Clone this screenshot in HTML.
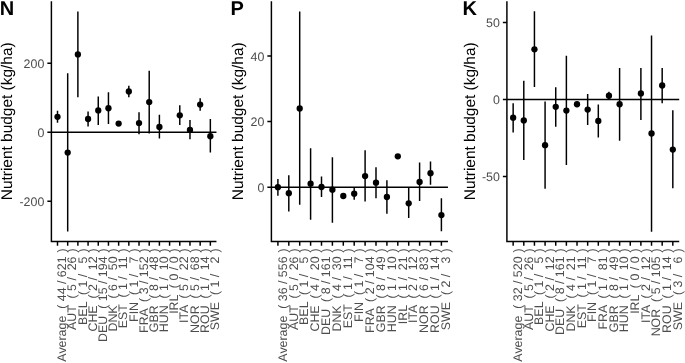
<!DOCTYPE html>
<html><head><meta charset="utf-8"><title>Nutrient budget</title>
<style>
html,body{margin:0;padding:0;background:#fff;}
body{width:685px;height:363px;overflow:hidden;}
svg{display:block;will-change:transform;}
text{font-family:"Liberation Sans", sans-serif;text-rendering:geometricPrecision;}
.t{font-size:12.4px;fill:#4d4d4d;white-space:pre;}
.ti{font-size:15.45px;fill:#000;}
.tag{font-size:20.0px;font-weight:bold;fill:#000;}
.ax{stroke:#000;stroke-width:1.47;fill:none;}
.tk{stroke:#000;stroke-width:1.47;fill:none;}
.r{stroke:#000;stroke-width:1.47;fill:none;}
.h{stroke:#000;stroke-width:1.47;fill:none;}
</style></head><body>
<svg width="685" height="363" viewBox="0 0 685 363">
<rect width="685" height="363" fill="#fff"/>
<g>
<text class="tag" x="-0.2" y="15.0">N</text>
<text class="ti" transform="translate(11.9 121.3) rotate(-90)" text-anchor="middle">Nutrient budget (kg/ha)</text>
<path class="h" d="M51.4 132.23H216.46"/>
<path class="r" d="M57.50 110.86V122.8M67.69 73.33V231.55M77.88 11.43V97.21M88.07 111.56V126.61M98.26 96.51V124.9M108.45 92.2V124.1M128.83 85.67V97.21M139.02 112.26V134.23M149.21 70.82V133.43M159.40 114.87V138.45M179.78 105.24V124.9M189.97 119.89V139.25M200.16 98.21V110.86M210.35 119.08V152.59"/>
<circle cx="57.50" cy="116.78" r="3.15"/>
<circle cx="67.69" cy="152.59" r="3.15"/>
<circle cx="77.88" cy="54.47" r="3.15"/>
<circle cx="88.07" cy="118.98" r="3.15"/>
<circle cx="98.26" cy="110.46" r="3.15"/>
<circle cx="108.45" cy="108.25" r="3.15"/>
<circle cx="118.64" cy="123.6" r="3.15"/>
<circle cx="128.83" cy="91.49" r="3.15"/>
<circle cx="139.02" cy="123.1" r="3.15"/>
<circle cx="149.21" cy="102.03" r="3.15"/>
<circle cx="159.40" cy="126.91" r="3.15"/>
<circle cx="179.78" cy="115.37" r="3.15"/>
<circle cx="189.97" cy="129.92" r="3.15"/>
<circle cx="200.16" cy="104.54" r="3.15"/>
<circle cx="210.35" cy="136.24" r="3.15"/>
<path class="ax" d="M51.4 1.2V241.6H216.46"/>
<path class="tk" d="M47.37 63.3H51.4M47.37 132.23H51.4M47.37 201.15H51.4M57.50 241.6V245.64M67.69 241.6V245.64M77.88 241.6V245.64M88.07 241.6V245.64M98.26 241.6V245.64M108.45 241.6V245.64M118.64 241.6V245.64M128.83 241.6V245.64M139.02 241.6V245.64M149.21 241.6V245.64M159.40 241.6V245.64M169.59 241.6V245.64M179.78 241.6V245.64M189.97 241.6V245.64M200.16 241.6V245.64M210.35 241.6V245.64"/>
<text class="t" x="44.30" y="67.90" text-anchor="end">200</text>
<text class="t" x="44.30" y="136.83" text-anchor="end">0</text>
<text class="t" x="44.30" y="205.75" text-anchor="end">-200</text>
<text class="t" xml:space="preserve" transform="translate(66.20 248.3) rotate(-90)" text-anchor="end">Average  ( 44 / 621<tspan dx="0.6"> )</tspan></text>
<text class="t" xml:space="preserve" transform="translate(76.39 248.3) rotate(-90)" text-anchor="end">AUT  ( 5 /  26<tspan dx="0.6"> )</tspan></text>
<text class="t" xml:space="preserve" transform="translate(86.58 248.3) rotate(-90)" text-anchor="end">BEL  ( 1 /   5<tspan dx="0.6"> )</tspan></text>
<text class="t" xml:space="preserve" transform="translate(96.77 248.3) rotate(-90)" text-anchor="end">CHE  ( 2 /  12<tspan dx="0.6"> )</tspan></text>
<text class="t" xml:space="preserve" transform="translate(106.96 248.3) rotate(-90)" text-anchor="end">DEU  ( 15 / 194<tspan dx="0.6"> )</tspan></text>
<text class="t" xml:space="preserve" transform="translate(117.15 248.3) rotate(-90)" text-anchor="end">DNK  ( 6 /  50<tspan dx="0.6"> )</tspan></text>
<text class="t" xml:space="preserve" transform="translate(127.34 248.3) rotate(-90)" text-anchor="end">EST  ( 1 /  11<tspan dx="0.6"> )</tspan></text>
<text class="t" xml:space="preserve" transform="translate(137.53 248.3) rotate(-90)" text-anchor="end">FIN  ( 1 /   7<tspan dx="0.6"> )</tspan></text>
<text class="t" xml:space="preserve" transform="translate(147.72 248.3) rotate(-90)" text-anchor="end">FRA  ( 3 / 152<tspan dx="0.6"> )</tspan></text>
<text class="t" xml:space="preserve" transform="translate(157.91 248.3) rotate(-90)" text-anchor="end">GBR  ( 8 /  48<tspan dx="0.6"> )</tspan></text>
<text class="t" xml:space="preserve" transform="translate(168.10 248.3) rotate(-90)" text-anchor="end">HUN  ( 1 /  10<tspan dx="0.6"> )</tspan></text>
<text class="t" xml:space="preserve" transform="translate(178.29 248.3) rotate(-90)" text-anchor="end">IRL  ( 0 / 0<tspan dx="0.6"> )</tspan></text>
<text class="t" xml:space="preserve" transform="translate(188.48 248.3) rotate(-90)" text-anchor="end">ITA  ( 5 /  22<tspan dx="0.6"> )</tspan></text>
<text class="t" xml:space="preserve" transform="translate(198.67 248.3) rotate(-90)" text-anchor="end">NOR  ( 5 /  68<tspan dx="0.6"> )</tspan></text>
<text class="t" xml:space="preserve" transform="translate(208.86 248.3) rotate(-90)" text-anchor="end">ROU  ( 1 /  14<tspan dx="0.6"> )</tspan></text>
<text class="t" xml:space="preserve" transform="translate(219.05 248.3) rotate(-90)" text-anchor="end">SWE  ( 1 /   2<tspan dx="0.6"> )</tspan></text>
</g>
<g>
<text class="tag" x="230.6" y="15.0">P</text>
<text class="ti" transform="translate(243.0 121.3) rotate(-90)" text-anchor="middle">Nutrient budget (kg/ha)</text>
<path class="h" d="M271.4 187.22H447.94"/>
<path class="r" d="M277.90 178.93V195.71M288.80 175.23V211.39M299.70 11.59V204.8M310.60 148.36V219.79M321.50 176.53V197.01M332.40 157.25V222.78M354.20 187.72V199.71M365.10 150.36V201.5M376.00 167.14V198.21M386.90 180.23V213.69M408.70 187.72V218.09M419.60 162.44V201.0M430.50 161.44V184.72M441.40 198.21V231.37"/>
<circle cx="277.90" cy="187.22" r="3.15"/>
<circle cx="288.80" cy="193.21" r="3.15"/>
<circle cx="299.70" cy="108.5" r="3.15"/>
<circle cx="310.60" cy="183.72" r="3.15"/>
<circle cx="321.50" cy="187.02" r="3.15"/>
<circle cx="332.40" cy="189.72" r="3.15"/>
<circle cx="343.30" cy="196.01" r="3.15"/>
<circle cx="354.20" cy="193.71" r="3.15"/>
<circle cx="365.10" cy="176.03" r="3.15"/>
<circle cx="376.00" cy="182.72" r="3.15"/>
<circle cx="386.90" cy="197.01" r="3.15"/>
<circle cx="397.80" cy="156.35" r="3.15"/>
<circle cx="408.70" cy="203.3" r="3.15"/>
<circle cx="419.60" cy="181.92" r="3.15"/>
<circle cx="430.50" cy="173.13" r="3.15"/>
<circle cx="441.40" cy="215.09" r="3.15"/>
<path class="ax" d="M271.4 1.2V241.6H447.94"/>
<path class="tk" d="M267.36 55.95H271.4M267.36 121.48H271.4M267.36 187.22H271.4M277.90 241.6V245.64M288.80 241.6V245.64M299.70 241.6V245.64M310.60 241.6V245.64M321.50 241.6V245.64M332.40 241.6V245.64M343.30 241.6V245.64M354.20 241.6V245.64M365.10 241.6V245.64M376.00 241.6V245.64M386.90 241.6V245.64M397.80 241.6V245.64M408.70 241.6V245.64M419.60 241.6V245.64M430.50 241.6V245.64M441.40 241.6V245.64"/>
<text class="t" x="264.30" y="60.55" text-anchor="end">40</text>
<text class="t" x="264.30" y="126.08" text-anchor="end">20</text>
<text class="t" x="264.30" y="191.82" text-anchor="end">0</text>
<text class="t" xml:space="preserve" transform="translate(286.60 248.3) rotate(-90)" text-anchor="end">Average  ( 36 / 556<tspan dx="0.6"> )</tspan></text>
<text class="t" xml:space="preserve" transform="translate(297.50 248.3) rotate(-90)" text-anchor="end">AUT  ( 5 /  26<tspan dx="0.6"> )</tspan></text>
<text class="t" xml:space="preserve" transform="translate(308.40 248.3) rotate(-90)" text-anchor="end">BEL  ( 1 /   5<tspan dx="0.6"> )</tspan></text>
<text class="t" xml:space="preserve" transform="translate(319.30 248.3) rotate(-90)" text-anchor="end">CHE  ( 4 /  20<tspan dx="0.6"> )</tspan></text>
<text class="t" xml:space="preserve" transform="translate(330.20 248.3) rotate(-90)" text-anchor="end">DEU  ( 8 / 161<tspan dx="0.6"> )</tspan></text>
<text class="t" xml:space="preserve" transform="translate(341.10 248.3) rotate(-90)" text-anchor="end">DNK  ( 4 /  30<tspan dx="0.6"> )</tspan></text>
<text class="t" xml:space="preserve" transform="translate(352.00 248.3) rotate(-90)" text-anchor="end">EST  ( 1 /  11<tspan dx="0.6"> )</tspan></text>
<text class="t" xml:space="preserve" transform="translate(362.90 248.3) rotate(-90)" text-anchor="end">FIN  ( 1 /   7<tspan dx="0.6"> )</tspan></text>
<text class="t" xml:space="preserve" transform="translate(373.80 248.3) rotate(-90)" text-anchor="end">FRA  ( 2 / 104<tspan dx="0.6"> )</tspan></text>
<text class="t" xml:space="preserve" transform="translate(384.70 248.3) rotate(-90)" text-anchor="end">GBR  ( 8 /  49<tspan dx="0.6"> )</tspan></text>
<text class="t" xml:space="preserve" transform="translate(395.60 248.3) rotate(-90)" text-anchor="end">HUN  ( 1 /  10<tspan dx="0.6"> )</tspan></text>
<text class="t" xml:space="preserve" transform="translate(406.50 248.3) rotate(-90)" text-anchor="end">IRL  ( 1 /  21<tspan dx="0.6"> )</tspan></text>
<text class="t" xml:space="preserve" transform="translate(417.40 248.3) rotate(-90)" text-anchor="end">ITA  ( 2 /  12<tspan dx="0.6"> )</tspan></text>
<text class="t" xml:space="preserve" transform="translate(428.30 248.3) rotate(-90)" text-anchor="end">NOR  ( 6 /  83<tspan dx="0.6"> )</tspan></text>
<text class="t" xml:space="preserve" transform="translate(439.20 248.3) rotate(-90)" text-anchor="end">ROU  ( 1 /  14<tspan dx="0.6"> )</tspan></text>
<text class="t" xml:space="preserve" transform="translate(450.10 248.3) rotate(-90)" text-anchor="end">SWE  ( 2 /   3<tspan dx="0.6"> )</tspan></text>
</g>
<g>
<text class="tag" x="462.5" y="15.0">K</text>
<text class="ti" transform="translate(474.5 121.3) rotate(-90)" text-anchor="middle">Nutrient budget (kg/ha)</text>
<path class="h" d="M506.9 99.55H679.21"/>
<path class="r" d="M513.15 103.27V132.5M523.79 80.76V159.92M534.44 11.25V87.09M545.08 101.56V188.65M555.73 87.29V126.67M566.38 55.85V164.95M587.66 94.03V124.97M598.31 104.57V137.52M608.95 91.82V99.35M619.60 68.11V140.64M640.89 68.11V119.94M651.53 35.46V231.75M662.18 68.11V103.27M672.82 110.3V188.15"/>
<circle cx="513.15" cy="117.63" r="3.15"/>
<circle cx="523.79" cy="120.45" r="3.15"/>
<circle cx="534.44" cy="49.32" r="3.15"/>
<circle cx="545.08" cy="145.16" r="3.15"/>
<circle cx="555.73" cy="106.78" r="3.15"/>
<circle cx="566.38" cy="110.6" r="3.15"/>
<circle cx="577.02" cy="104.27" r="3.15"/>
<circle cx="587.66" cy="109.6" r="3.15"/>
<circle cx="598.31" cy="120.95" r="3.15"/>
<circle cx="608.95" cy="95.73" r="3.15"/>
<circle cx="619.60" cy="104.27" r="3.15"/>
<circle cx="640.89" cy="93.42" r="3.15"/>
<circle cx="651.53" cy="133.5" r="3.15"/>
<circle cx="662.18" cy="85.49" r="3.15"/>
<circle cx="672.82" cy="149.58" r="3.15"/>
<path class="ax" d="M506.9 1.2V241.6H679.21"/>
<path class="tk" d="M502.86 22.4H506.9M502.86 99.55H506.9M502.86 176.5H506.9M513.15 241.6V245.64M523.79 241.6V245.64M534.44 241.6V245.64M545.08 241.6V245.64M555.73 241.6V245.64M566.38 241.6V245.64M577.02 241.6V245.64M587.66 241.6V245.64M598.31 241.6V245.64M608.95 241.6V245.64M619.60 241.6V245.64M630.25 241.6V245.64M640.89 241.6V245.64M651.53 241.6V245.64M662.18 241.6V245.64M672.82 241.6V245.64"/>
<text class="t" x="499.80" y="27.00" text-anchor="end">50</text>
<text class="t" x="499.80" y="104.15" text-anchor="end">0</text>
<text class="t" x="499.80" y="181.10" text-anchor="end">-50</text>
<text class="t" xml:space="preserve" transform="translate(521.85 248.3) rotate(-90)" text-anchor="end">Average  ( 32 / 520<tspan dx="0.6"> )</tspan></text>
<text class="t" xml:space="preserve" transform="translate(532.50 248.3) rotate(-90)" text-anchor="end">AUT  ( 5 /  26<tspan dx="0.6"> )</tspan></text>
<text class="t" xml:space="preserve" transform="translate(543.14 248.3) rotate(-90)" text-anchor="end">BEL  ( 1 /   5<tspan dx="0.6"> )</tspan></text>
<text class="t" xml:space="preserve" transform="translate(553.78 248.3) rotate(-90)" text-anchor="end">CHE  ( 2 /  12<tspan dx="0.6"> )</tspan></text>
<text class="t" xml:space="preserve" transform="translate(564.43 248.3) rotate(-90)" text-anchor="end">DEU  ( 8 / 161<tspan dx="0.6"> )</tspan></text>
<text class="t" xml:space="preserve" transform="translate(575.08 248.3) rotate(-90)" text-anchor="end">DNK  ( 4 /  21<tspan dx="0.6"> )</tspan></text>
<text class="t" xml:space="preserve" transform="translate(585.72 248.3) rotate(-90)" text-anchor="end">EST  ( 1 /  11<tspan dx="0.6"> )</tspan></text>
<text class="t" xml:space="preserve" transform="translate(596.37 248.3) rotate(-90)" text-anchor="end">FIN  ( 1 /   7<tspan dx="0.6"> )</tspan></text>
<text class="t" xml:space="preserve" transform="translate(607.01 248.3) rotate(-90)" text-anchor="end">FRA  ( 1 /  81<tspan dx="0.6"> )</tspan></text>
<text class="t" xml:space="preserve" transform="translate(617.65 248.3) rotate(-90)" text-anchor="end">GBR  ( 8 /  49<tspan dx="0.6"> )</tspan></text>
<text class="t" xml:space="preserve" transform="translate(628.30 248.3) rotate(-90)" text-anchor="end">HUN  ( 1 /  10<tspan dx="0.6"> )</tspan></text>
<text class="t" xml:space="preserve" transform="translate(638.95 248.3) rotate(-90)" text-anchor="end">IRL  ( 0 / 0<tspan dx="0.6"> )</tspan></text>
<text class="t" xml:space="preserve" transform="translate(649.59 248.3) rotate(-90)" text-anchor="end">ITA  ( 2 /  12<tspan dx="0.6"> )</tspan></text>
<text class="t" xml:space="preserve" transform="translate(660.24 248.3) rotate(-90)" text-anchor="end">NOR  ( 5 / 105<tspan dx="0.6"> )</tspan></text>
<text class="t" xml:space="preserve" transform="translate(670.88 248.3) rotate(-90)" text-anchor="end">ROU  ( 1 /  14<tspan dx="0.6"> )</tspan></text>
<text class="t" xml:space="preserve" transform="translate(681.52 248.3) rotate(-90)" text-anchor="end">SWE  ( 3 /   6<tspan dx="0.6"> )</tspan></text>
</g>
</svg></body></html>
